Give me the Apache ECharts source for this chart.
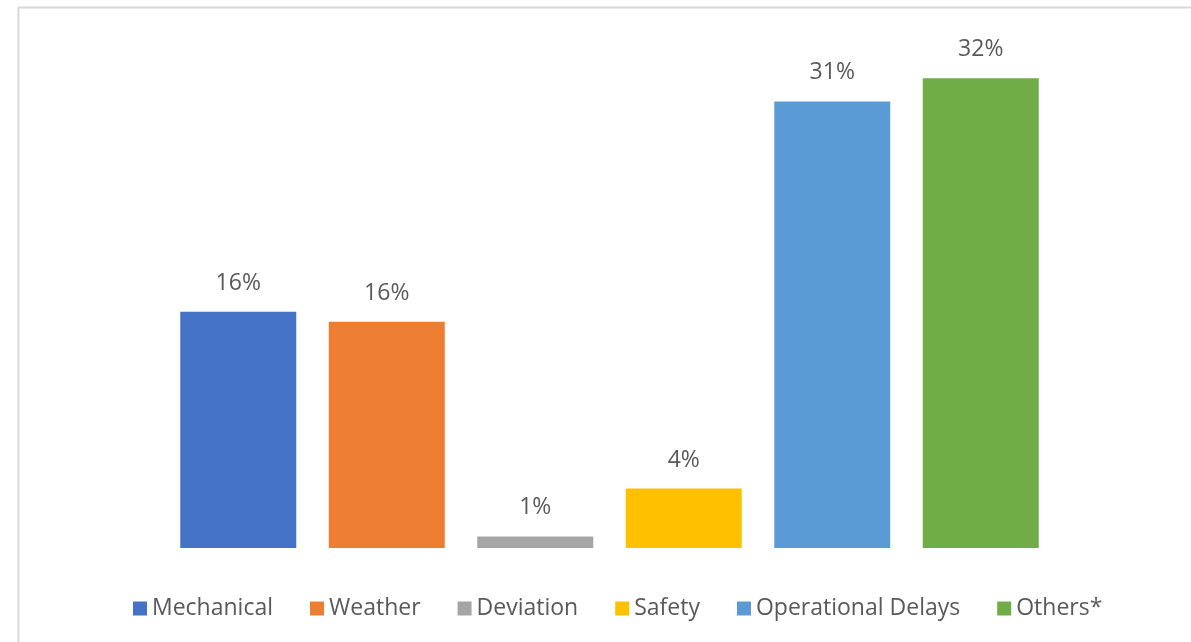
<!DOCTYPE html>
<html><head><meta charset="utf-8">
<script src="https://cdn.jsdelivr.net/npm/echarts@6/dist/echarts.min.js"></script>
<style>html,body{margin:0;padding:0;background:#fff}#c{width:1191px;height:642px}</style>
</head><body><div id="c"></div>
<script>
const categories = ['Mechanical','Weather','Deviation','Safety','Operational Delays','Others*'];
const values = [16.3, 15.6, 0.8, 4.1, 30.8, 32.4];
const colors = ['#4472C4','#ED7D31','#A5A5A5','#FFC000','#5B9BD5','#70AD47'];

const chart = echarts.init(document.getElementById('c'));
const font = '"Segoe UI", "Open Sans", "Noto Sans", sans-serif';
const series = categories.map((name, i) => ({
  name: name,
  type: 'bar',
  barWidth: 116,
  barGap: '-100%',
  itemStyle: { color: colors[i] },
  label: {
    show: true, position: 'top', distance: 17,
    color: '#595959', fontSize: 23, fontFamily: font,
    formatter: p => Math.round(p.value) + '%'
  },
  data: categories.map((c, j) => j === i ? values[i] : null)
}));
chart.setOption({
  animation: false,
  graphic: [{ type: 'rect', left: 16, top: 5, shape: { width: 1250, height: 700 },
    style: { fill: 'none', stroke: '#d9d9d9', lineWidth: 2 }, silent: true }],
  grid: { left: 164, right: 136, top: 40.5, bottom: 94 },
  xAxis: { type: 'category', data: categories, show: false },
  yAxis: { type: 'value', min: 0, max: 35, show: false },
  legend: {
    left: 128, top: 592, itemWidth: 14, itemHeight: 14, itemGap: 37,
    icon: 'rect',
    textStyle: { color: '#595959', fontSize: 23, fontFamily: font },
    data: categories
  },
  series: series
});
</script></body></html>
